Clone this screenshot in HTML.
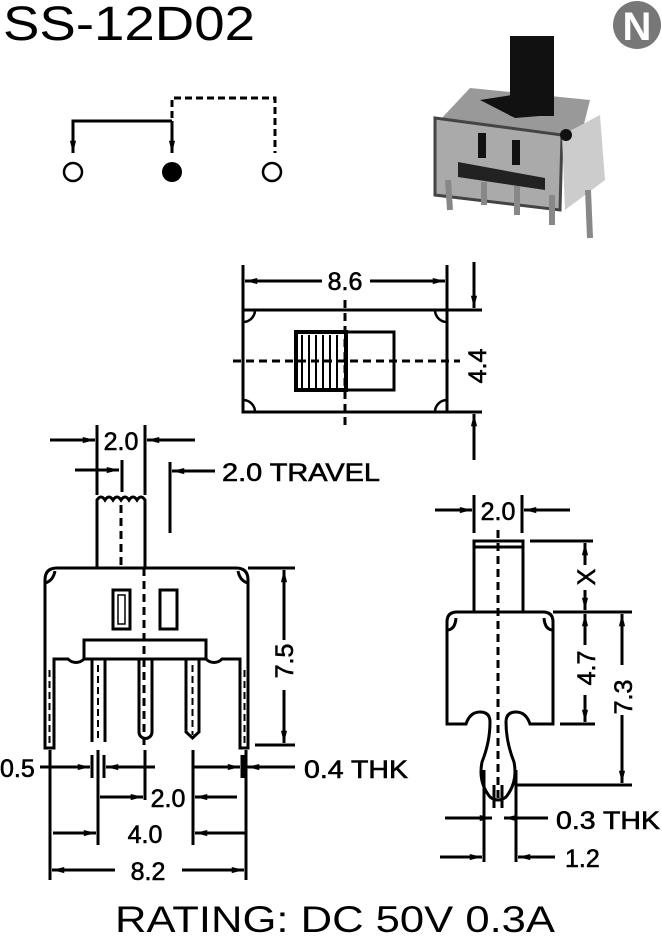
<!DOCTYPE html>
<html><head><style>
body{margin:0;background:#fff}
svg{display:block}
text{font-family:"Liberation Sans",Arial,sans-serif;fill:#000}
.d{font-size:25px;stroke:#000;stroke-width:0.6}
</style></head><body>
<svg width="662" height="937" viewBox="0 0 662 937" xmlns="http://www.w3.org/2000/svg">
<defs>
<marker id="a" viewBox="0 0 14 8" refX="14" refY="4" markerWidth="15" markerHeight="7" orient="auto-start-reverse" markerUnits="userSpaceOnUse"><path d="M0,0.5 L14,4 L0,7.5 Z" fill="#000"/></marker>
</defs>
<text x="3" y="40" font-size="48" textLength="252" lengthAdjust="spacingAndGlyphs">SS-12D02</text>
<!-- N logo -->
<circle cx="637" cy="25" r="24" fill="#777"/>
<text x="637" y="40" font-size="40" font-weight="bold" text-anchor="middle" style="fill:#fff" font-family="Liberation Serif">N</text>
<!-- schematic -->
<g stroke="#000" stroke-width="3" fill="none">
<path d="M172,121 H73 V153" marker-end="url(#a)"/>
<path d="M172,121 V153" marker-end="url(#a)"/>
<path d="M172,118 V98 H275 V153" stroke-dasharray="7,4"/>
<circle cx="73" cy="172" r="9" stroke-width="2.5"/>
<circle cx="272" cy="172" r="9" stroke-width="2.5"/>
</g>
<circle cx="172" cy="172" r="10" fill="#000"/>
<!-- photo -->
<g>
<path d="M440,120 L470,88 L590,100 L580,140 Z" fill="#999"/>
<path d="M435,118 L562,135 L560,210 L435,195 Z" fill="#aaa" stroke="#444" stroke-width="3"/>
<path d="M562,135 L600,115 L605,180 L565,210 Z" fill="#ccc"/>
<rect x="510" y="36" width="44" height="80" fill="#111"/>
<path d="M480,100 L512,95 L552,115 L515,118 Z" fill="#111"/>
<rect x="478" y="133" width="8" height="25" fill="#111"/>
<rect x="512" y="140" width="8" height="25" fill="#111"/>
<path d="M458,162 L545,178 L545,190 L458,177 Z" fill="#222"/>
<g stroke="#888" stroke-width="6"><line x1="448" y1="180" x2="450" y2="210"/><line x1="484" y1="182" x2="484" y2="205"/><line x1="517" y1="186" x2="517" y2="215"/><line x1="552" y1="195" x2="552" y2="225"/><line x1="588" y1="190" x2="590" y2="238"/></g>
<circle cx="566" cy="135" r="6" fill="#111"/>
</g>
<!-- top view -->
<g stroke="#000" stroke-width="3" fill="none">
<rect x="243" y="310" width="204" height="102"/>
<rect x="296" y="332" width="98" height="58"/>
<rect x="296" y="332" width="50" height="58" stroke-width="4"/>
<path d="M302,335V388M309,335V388M316,335V388M323,335V388M330,335V388M337,335V388" stroke-width="2"/>
<path d="M233,361H460" stroke-dasharray="8,5"/>
<path d="M345,300V425" stroke-dasharray="8,5"/>
<path d="M243,265V310M447,265V310"/>
<path d="M322,281H245" marker-end="url(#a)"/>
<path d="M370,281H445" marker-end="url(#a)"/>
<path d="M447,310H482M447,412H482"/>
<path d="M474,262V308" marker-end="url(#a)"/>
<path d="M474,460V414" marker-end="url(#a)"/>
<path d="M243,322 a12,12 0 0 0 12,-12 M435,310 a12,12 0 0 0 12,12 M243,400 a12,12 0 0 1 12,12 M435,412 a12,12 0 0 1 12,-12" stroke-width="2.5"/>
</g>
<text class="d" x="345" y="290" text-anchor="middle">8.6</text>
<text class="d" transform="translate(486,366) rotate(-90)" text-anchor="middle">4.4</text>
<!-- front view -->
<g stroke="#000" stroke-width="3" fill="none">
<path d="M97,568V500 q4,-6 8,0 q4,-6 8,0 q4,-6 8,0 q4,-6 8,0 q4,-6 8,0 q4,-6 8,0 V568"/>
<path d="M121,505V568" stroke-dasharray="8,5"/>
<path d="M144,568V745" stroke-dasharray="8,5"/>
<path d="M45,748V580 q0,-12 12,-12 H236 q12,0 12,12 V748 H240 V659 H222 a11,11 0 0 1 -16,0 H84 a11,11 0 0 1 -16,0 H54 V748 Z"/>
<path d="M45,583 q8,-2 10,-12 M248,583 q-8,-2 -10,-12"/>
<path d="M248,568H295"/>
<rect x="113" y="590" width="17" height="39"/>
<rect x="118" y="595" width="7" height="29" stroke-width="1.5"/>
<rect x="160" y="590" width="17" height="39"/>
<rect x="84" y="640" width="122" height="19"/>
<path d="M92,659V742M105,659V742"/>
<path d="M139,659V732 a6.5,6.5 0 0 0 13,0 V659"/>
<path d="M186,659V732 l6.5,6 l6.5,-6 V659"/>
<path d="M98,665V742M49.5,670V745M244.5,670V745M192.5,665V735" stroke-dasharray="7,4" stroke-width="2"/>
<path d="M255,745H295"/>
<path d="M284,640V570" marker-end="url(#a)"/>
<path d="M284,690V743" marker-end="url(#a)"/>
<path d="M97,425V495M145,425V495"/>
<path d="M50,440H95" marker-end="url(#a)"/>
<path d="M195,440H147" marker-end="url(#a)"/>
<path d="M75,470H119" marker-end="url(#a)"/>
<path d="M122,460V492"/>
<path d="M170,462V533"/>
<path d="M215,471H172" marker-end="url(#a)"/>
<path d="M50,750V880M98,750V845M145,750V800M193,750V845M246,750V880"/>
<path d="M92,755V778M104,755V778"/>
<path d="M243,755V778" stroke-width="5"/>
<path d="M40,767H90" marker-end="url(#a)"/>
<path d="M155,767H106" marker-end="url(#a)"/>
<path d="M192,767H240" marker-end="url(#a)"/>
<path d="M295,767H247" marker-end="url(#a)"/>
<path d="M100,797H143" marker-end="url(#a)"/>
<path d="M237,797H195" marker-end="url(#a)"/>
<path d="M53,833H96" marker-end="url(#a)"/>
<path d="M245,833H195" marker-end="url(#a)"/>
<path d="M115,870H52" marker-end="url(#a)"/>
<path d="M182,870H244" marker-end="url(#a)"/>
</g>
<text class="d" x="121" y="450" text-anchor="middle">2.0</text>
<text class="d" x="222" y="481" textLength="158" lengthAdjust="spacingAndGlyphs">2.0 TRAVEL</text>
<text class="d" transform="translate(293,661) rotate(-90)" text-anchor="middle">7.5</text>
<text class="d" x="0" y="777">0.5</text>
<text class="d" x="304" y="778" textLength="104" lengthAdjust="spacingAndGlyphs">0.4 THK</text>
<text class="d" x="168" y="807" text-anchor="middle">2.0</text>
<text class="d" x="145" y="843" text-anchor="middle">4.0</text>
<text class="d" x="148" y="880" text-anchor="middle">8.2</text>
<!-- side view -->
<g stroke="#000" stroke-width="3" fill="none">
<rect x="474" y="541" width="49" height="71"/>
<path d="M474,547H523"/>
<path d="M498,530V800" stroke-dasharray="8,5"/>
<path d="M447,724V622 q0,-10 10,-10 H543 q10,0 10,10 V724 H530 q-4,-12 -14,-12 q-10,0 -10,10 q0,20 8,40 q4,20 -8,35 q-8,6 -16,0 q-12,-15 -8,-35 q8,-20 8,-40 q0,-10 -10,-10 q-10,0 -14,12 Z"/>
<path d="M447,630 q8,0 9,-12 M553,630 q-8,0 -9,-12"/>
<path d="M474,495V533M522,495V533"/>
<path d="M435,510H472" marker-end="url(#a)"/>
<path d="M570,510H524" marker-end="url(#a)"/>
<path d="M530,541H593M553,612H632M560,724H595M515,785H632"/>
<path d="M585,565V543" marker-end="url(#a)"/>
<path d="M585,590V610" marker-end="url(#a)"/>
<path d="M585,645V614" marker-end="url(#a)"/>
<path d="M585,695V722" marker-end="url(#a)"/>
<path d="M622,665V614" marker-end="url(#a)"/>
<path d="M622,715V783" marker-end="url(#a)"/>
<path d="M484,770V862M516,770V862M494,785V808M502,785V808"/>
<path d="M445,818H492" marker-end="url(#a)"/>
<path d="M548,818H504" marker-end="url(#a)"/>
<path d="M440,857H482" marker-end="url(#a)"/>
<path d="M555,857H518" marker-end="url(#a)"/>
</g>
<text class="d" x="498" y="520" text-anchor="middle">2.0</text>
<text class="d" transform="translate(595,577) rotate(-90)" text-anchor="middle">X</text>
<text class="d" transform="translate(595,668) rotate(-90)" text-anchor="middle">4.7</text>
<text class="d" transform="translate(632,697) rotate(-90)" text-anchor="middle">7.3</text>
<text class="d" x="556" y="829" textLength="104" lengthAdjust="spacingAndGlyphs">0.3 THK</text>
<text class="d" x="565" y="867">1.2</text>
<text x="115" y="932" font-size="37" textLength="440" lengthAdjust="spacingAndGlyphs">RATING: DC 50V 0.3A</text>
</svg>
</body></html>
